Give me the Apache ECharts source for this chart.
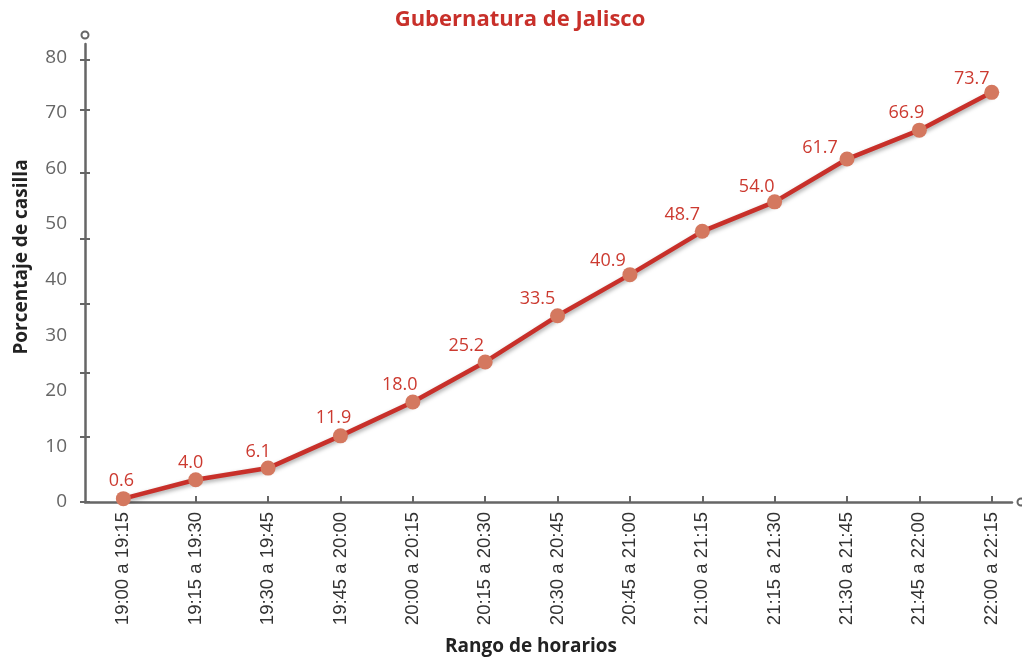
<!DOCTYPE html>
<html>
<head>
<meta charset="utf-8">
<script src="https://cdn.jsdelivr.net/npm/echarts@6/dist/echarts.min.js"></script>
<style>
  html, body { margin: 0; padding: 0; background: #fff; }
  #chart { width: 1022px; height: 660px; }
</style>
</head>
<body>
<div id="chart"></div>
<script>
// Time ranges of the count and the cumulative percentage of polling stations reported
const categories = [
  '19:00 a 19:15', '19:15 a 19:30', '19:30 a 19:45', '19:45 a 20:00',
  '20:00 a 20:15', '20:15 a 20:30', '20:30 a 20:45', '20:45 a 21:00',
  '21:00 a 21:15', '21:15 a 21:30', '21:30 a 21:45', '21:45 a 22:00',
  '22:00 a 22:15'
];
const values = [0.6, 4.0, 6.1, 11.9, 18.0, 25.2, 33.5, 40.9, 48.7, 54.0, 61.7, 66.9, 73.7];

// Y axis labels and the positions of its tick marks
const yLabelValues = [0, 10, 20, 30, 40, 50, 60, 70, 80];
const yTickValues = [0, 11.7, 23.3, 35.7, 47.3, 59.2, 70.5, 79.6];

// Per-point nudges for the value labels (pixels)
const labelShiftX = [-2, -5, -10, -7, -13, -19, -20, -22, -20, -18, -27, -13, -20];
const labelShiftY = [-1, 0, 0, -1, -1, 0, 0, 3, 0, 2, 5, -1, 3];

const AXIS = '#666666';
const RED = '#c8302a';
const ROUND = '"Open Sans", Lato, sans-serif';

const chart = echarts.init(document.getElementById('chart'), null, { renderer: 'canvas' });

const catIdx = categories.map((_, i) => i);

const option = {
  backgroundColor: '#ffffff',
  animation: false,
  title: {
    text: 'Gubernatura de Jalisco',
    left: 520,
    textAlign: 'center',
    top: 9,
    padding: 0,
    textStyle: { color: RED, fontSize: 22, fontWeight: 'bold', fontFamily: ROUND }
  },
  grid: { left: 85, right: 10, top: 44, bottom: 158, containLabel: false },
  xAxis: {
    type: 'value',
    min: -0.53,
    max: 12.28,
    splitLine: { show: false },
    axisLine: {
      show: true,
      onZero: false,
      symbol: ['none', 'emptyCircle'],
      symbolSize: [7, 7],
      symbolOffset: [0, 9],
      lineStyle: { color: AXIS, width: 2.5 }
    },
    axisTick: {
      show: true,
      inside: true,
      length: 6,
      customValues: catIdx,
      lineStyle: { color: AXIS, width: 2 }
    },
    axisLabel: {
      customValues: catIdx,
      rotate: 90,
      margin: 10,
      color: '#333',
      fontSize: 18.5,
      fontFamily: '"Liberation Sans", Arial, sans-serif',
      formatter: v => categories[Math.round(v)]
    }
  },
  yAxis: [
    {
      type: 'value',
      min: 0,
      max: 82.4,
      position: 'left',
      splitLine: { show: false },
      axisLine: {
        show: true,
        onZero: false,
        symbol: ['none', 'emptyCircle'],
        symbolSize: [7, 7],
        symbolOffset: [0, 9],
        lineStyle: { color: AXIS, width: 2.5 }
      },
      axisTick: {
        show: true,
        length: 5,
        customValues: yTickValues,
        lineStyle: { color: AXIS, width: 2 }
      },
      axisLabel: {
        customValues: yLabelValues,
        margin: 18,
        color: AXIS,
        fontSize: 19,
        fontFamily: ROUND
      }
    },
    {
      // inner half of the crossing tick marks
      type: 'value',
      min: 0,
      max: 82.4,
      position: 'left',
      offset: 0,
      splitLine: { show: false },
      axisLine: { show: false, onZero: false },
      axisLabel: { show: false },
      axisTick: {
        show: true,
        inside: true,
        length: 5,
        customValues: yTickValues,
        lineStyle: { color: AXIS, width: 2 }
      }
    }
  ],
  graphic: [
    {
      type: 'text',
      x: 22,
      y: 257,
      rotation: Math.PI / 2,
      style: {
        text: 'Porcentaje de casilla',
        fill: '#222',
        font: 'bold 19px ' + ROUND,
        textAlign: 'center',
        textVerticalAlign: 'middle'
      }
    },
    {
      type: 'text',
      x: 531,
      y: 647,
      style: {
        text: 'Rango de horarios',
        fill: '#222',
        font: 'bold 19px ' + ROUND,
        textAlign: 'center',
        textVerticalAlign: 'middle'
      }
    }
  ],
  series: [
    {
      type: 'line',
      data: values.map((v, i) => ({
        value: [i, v],
        label: { offset: [labelShiftX[i], labelShiftY[i]] }
      })),
      symbol: 'circle',
      symbolSize: 15,
      itemStyle: { color: '#d4785f' },
      lineStyle: {
        color: RED,
        width: 4.5,
        shadowColor: 'rgba(0,0,0,0.35)',
        shadowBlur: 4,
        shadowOffsetX: 1,
        shadowOffsetY: 2
      },
      label: {
        show: true,
        position: 'top',
        distance: 0,
        color: '#cc3a30',
        fontSize: 18,
        fontFamily: ROUND,
        formatter: p => p.value[1].toFixed(1)
      },
      z: 3
    }
  ]
};

chart.setOption(option);
</script>
</body>
</html>
